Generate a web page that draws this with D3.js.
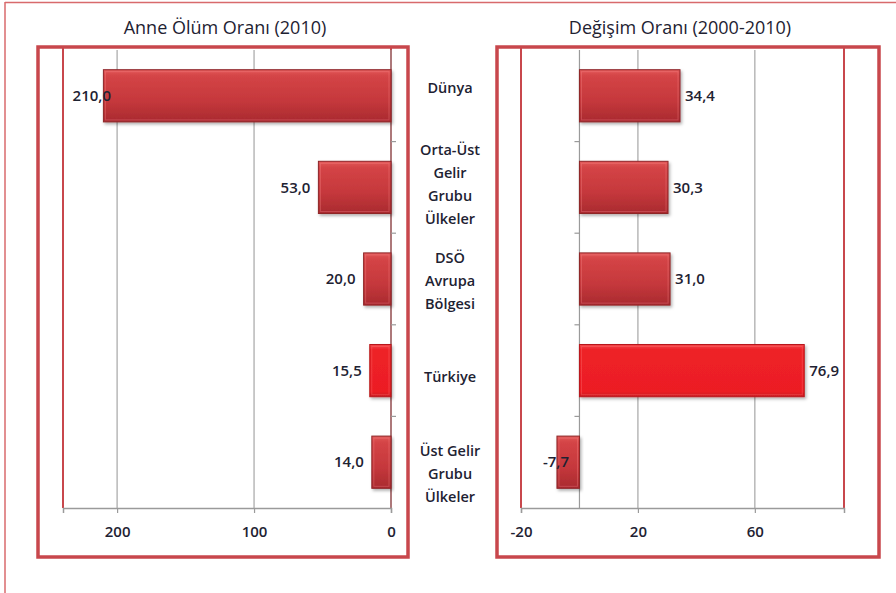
<!DOCTYPE html>
<html>
<head>
<meta charset="utf-8">
<script src="https://cdn.jsdelivr.net/npm/d3@7"></script>
<style>
  body { margin: 0; background: #fff; }
  text { font-family: "Open Sans", "DejaVu Sans", sans-serif; fill: #1e2232; }
</style>
</head>
<body>
<script>
// data
const categories = ["Dünya", "Orta-Üst Gelir Grubu Ülkeler", "DSÖ Avrupa Bölgesi", "Türkiye", "Üst Gelir Grubu Ülkeler"];
const categoryLines = [["Dünya"], ["Orta-Üst", "Gelir", "Grubu", "Ülkeler"], ["DSÖ", "Avrupa", "Bölgesi"], ["Türkiye"], ["Üst Gelir", "Grubu", "Ülkeler"]];
const mortality2010 = [210.0, 53.0, 20.0, 15.5, 14.0];
const change2000_2010 = [34.4, 30.3, 31.0, 76.9, -7.7];
const leftTicks = [200, 100, 0];
const rightTicks = [-20, 20, 60];
const highlighted = "Türkiye";

const width = 896, height = 593;
const red = "#c8474c";
const tr = d3.formatLocale({decimal: ",", thousands: ".", grouping: [3], currency: ["", ""], minus: "-"});
const fmt = tr.format(".1f");
const fmtTick = tr.format("d");

const svg = d3.select("body").append("svg")
    .attr("width", width).attr("height", height);

const defs = svg.append("defs");
const g1 = defs.append("linearGradient").attr("id", "barGrad").attr("x1", 0).attr("y1", 0).attr("x2", 0).attr("y2", 1);
g1.append("stop").attr("offset", "0%").attr("stop-color", "#e25a5a");
g1.append("stop").attr("offset", "12%").attr("stop-color", "#d44446");
g1.append("stop").attr("offset", "60%").attr("stop-color", "#c5383c");
g1.append("stop").attr("offset", "100%").attr("stop-color", "#a92a2f");
const g2 = defs.append("linearGradient").attr("id", "hiGrad").attr("x1", 0).attr("y1", 0).attr("x2", 0).attr("y2", 1);
g2.append("stop").attr("offset", "0%").attr("stop-color", "#f24a4d");
g2.append("stop").attr("offset", "10%").attr("stop-color", "#ee2127");
g2.append("stop").attr("offset", "90%").attr("stop-color", "#ec1e24");
g2.append("stop").attr("offset", "100%").attr("stop-color", "#c9181e");
const sh = defs.append("filter").attr("id", "shadow").attr("x", "-10%").attr("y", "-10%").attr("width", "130%").attr("height", "140%");
sh.append("feDropShadow").attr("dx", 1.5).attr("dy", 2).attr("stdDeviation", 1.5).attr("flood-color", "#000").attr("flood-opacity", 0.3);

// outer frame
svg.append("line").attr("x1", 5).attr("x2", 5).attr("y1", 2).attr("y2", height).attr("stroke", "#d86a6c").attr("stroke-width", 1.5);
svg.append("line").attr("x1", 5).attr("x2", width).attr("y1", 2.5).attr("y2", 2.5).attr("stroke", "#d86a6c").attr("stroke-width", 1.5);

const plotTop = 50, plotBottom = 508;

function panel(opts) {
  const {box, plot, domain, values, ticks, title, titleX, reverse} = opts;
  const x = d3.scaleLinear().domain(domain).range(reverse ? [plot[1], plot[0]] : [plot[0], plot[1]]);
  const y = d3.scaleBand().domain(categories).range([plotTop, plotBottom]).paddingInner(0.43).paddingOuter(0.215);
  const g = svg.append("g");

  g.append("text").attr("x", titleX).attr("y", 34).attr("text-anchor", "middle")
    .style("font-size", "18px").text(title);

  g.append("rect").attr("x", box[0]).attr("y", box[1]).attr("width", box[2] - box[0]).attr("height", box[3] - box[1])
    .attr("fill", "none").attr("stroke", red).attr("stroke-width", 3.5);

  // gridlines
  g.selectAll(".grid").data(ticks.filter(t => t !== 0 && x(t) > plot[0] + 2 && x(t) < plot[1] - 2))
    .join("line").attr("class", "grid")
    .attr("x1", d => x(d)).attr("x2", d => x(d)).attr("y1", plotTop).attr("y2", plotBottom)
    .attr("stroke", "#a6a6a6").attr("stroke-width", 1.2);

  // plot area border
  g.append("line").attr("x1", plot[0]).attr("x2", plot[0]).attr("y1", plotTop - 2).attr("y2", plotBottom).attr("stroke", red).attr("stroke-width", 2);
  g.append("line").attr("x1", plot[1]).attr("x2", plot[1]).attr("y1", plotTop - 2).attr("y2", plotBottom).attr("stroke", red).attr("stroke-width", 2);

  // bottom value axis
  const axis = g.append("g").attr("transform", `translate(0,${plotBottom})`)
    .call(d3.axisBottom(x).tickValues(ticks).tickSize(5).tickFormat(fmtTick));
  axis.select(".domain").attr("stroke", "#9a9a9a").attr("stroke-width", 1.5);
  axis.selectAll(".tick line").attr("stroke", "#9a9a9a").attr("stroke-width", 1.2);
  axis.selectAll(".tick text").attr("y", 18).style("font-size", "15px").style("font-weight", 600).attr("fill", "#2a2a36");

  // category axis at zero
  const x0 = x(0);
  g.append("line").attr("x1", x0).attr("x2", x0).attr("y1", plotTop).attr("y2", plotBottom).attr("stroke", "#9a9a9a").attr("stroke-width", 1.2);
  const bounds = d3.range(1, categories.length).map(i => plotTop + i * y.step());
  const tdir = reverse ? 5 : -5;
  g.selectAll(".ctick").data(bounds).join("line").attr("class", "ctick")
    .attr("x1", x0).attr("x2", x0 + tdir).attr("y1", d => d).attr("y2", d => d)
    .attr("stroke", "#9a9a9a").attr("stroke-width", 1.2);

  // bars
  const rows = categories.map((c, i) => ({c, v: values[i]}));
  g.selectAll(".bar").data(rows).join("rect").attr("class", "bar")
    .attr("x", d => Math.min(x(0), x(d.v)))
    .attr("y", d => y(d.c))
    .attr("width", d => Math.abs(x(d.v) - x(0)))
    .attr("height", y.bandwidth())
    .attr("fill", d => d.c === highlighted ? "url(#hiGrad)" : "url(#barGrad)")
    .attr("stroke", d => d.c === highlighted ? "#b8171c" : "#8e2629")
    .attr("stroke-width", 1)
    .attr("filter", "url(#shadow)");

  // bevel highlight
  g.selectAll(".bev").data(rows).join("rect").attr("class", "bev")
    .attr("x", d => Math.min(x(0), x(d.v)) + 2)
    .attr("y", d => y(d.c) + 2)
    .attr("width", d => Math.max(0, Math.abs(x(d.v) - x(0)) - 4))
    .attr("height", y.bandwidth() - 4)
    .attr("fill", "none")
    .attr("stroke", d => d.c === highlighted ? "rgba(255,120,120,0.35)" : "rgba(255,150,150,0.3)")
    .attr("stroke-width", 1);

  // value labels
  const leftward = d => reverse ? d.v >= 0 : d.v < 0;
  g.selectAll(".val").data(rows).join("text").attr("class", "val")
    .attr("y", d => y(d.c) + y.bandwidth() / 2)
    .attr("dy", "0.35em")
    .style("font-size", "15px").style("font-weight", 600)
    .attr("text-anchor", d => leftward(d) ? "end" : "start")
    .attr("x", d => {
      if (leftward(d)) {
        const left = Math.min(x(0), x(d.v));
        return Math.max(left - 8, plot[0] + 48);
      }
      return Math.max(x(0), x(d.v)) + 5;
    })
    .text(d => fmt(d.v));
}

panel({
  box: [38, 47, 408, 557], plot: [63, 391], domain: [0, 239.5], values: mortality2010,
  ticks: leftTicks, title: "Anne Ölüm Oranı (2010)", titleX: 225, reverse: true
});
panel({
  box: [497, 47, 879, 557], plot: [521, 844], domain: [-20, 90.5], values: change2000_2010,
  ticks: rightTicks, title: "Değişim Oranı (2000-2010)", titleX: 680, reverse: false
});

// category labels column
const ly = d3.scaleBand().domain(categories).range([40, 522]);
const lineH = 23;
const lab = svg.append("g").selectAll("text").data(categories).join("text")
  .attr("text-anchor", "middle")
  .style("font-size", "14.5px").style("font-weight", 600);
lab.each(function(c, i) {
  const lines = categoryLines[i];
  const cy = ly(c) + ly.bandwidth() / 2;
  const t = d3.select(this);
  lines.forEach((l, j) => {
    t.append("tspan").attr("x", 450)
      .attr("y", cy + (j - (lines.length - 1) / 2) * lineH)
      .attr("dy", "0.35em").text(l);
  });
});
</script>
</body>
</html>
